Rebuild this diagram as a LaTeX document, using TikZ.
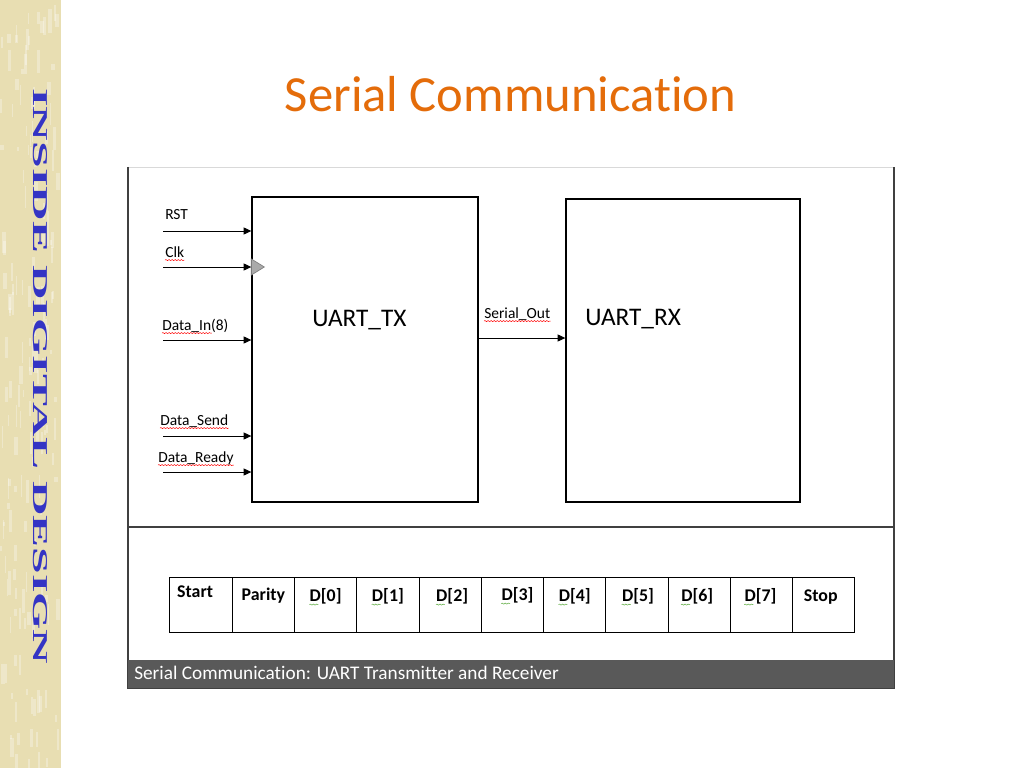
\documentclass[tikz,border=0pt]{standalone}
\usepackage{fontspec}
\setmainfont{Carlito}[RawFeature={-liga;-clig;-calt;-dlig}]
\newfontfamily\sidefont{Liberation Serif}
\usetikzlibrary{arrows.meta,decorations.pathmorphing}
\definecolor{titleorange}{RGB}{228,108,10}
\definecolor{sideblue}{RGB}{52,52,196}
\definecolor{sidebeige}{RGB}{232,222,178}
\definecolor{framegray}{RGB}{64,64,64}
\definecolor{capgray}{RGB}{89,89,89}
\definecolor{clkgray}{RGB}{170,170,170}
\definecolor{spellgreen}{RGB}{90,170,60}

\begin{document}
\begin{tikzpicture}[x=0.025cm, y=-0.025cm,
  block/.style={draw, line width=.9pt, inner sep=0pt},
  sig/.style={-{Triangle[length=5.5pt,width=5pt]}, line width=.7pt},
  pin label/.style={anchor=base west, inner sep=0pt, font=\fontsize{11}{13}\selectfont},
  bitcell/.style={draw, line width=.7pt, minimum width=1.557cm, minimum height=1.375cm, inner sep=0pt},
  bittext/.style={anchor=base, inner sep=0pt, font=\fontsize{12.7}{14}\selectfont\bfseries},
  squig/.style={decorate, decoration={snake, amplitude=.4pt, segment length=2.2pt}, red, line width=.35pt}]
\useasboundingbox (0,0) rectangle (1024,768);
\fill[white] (0,0) rectangle (1024,768);

% side band
\fill[sidebeige] (0,0) rectangle (61,768);
\pgfmathsetseed{7}
\foreach \k in {1,...,160}{
  \pgfmathsetmacro\xa{rnd*57}
  \pgfmathsetmacro\ya{rnd*760}
  \fill[white, opacity=.3] (\xa,\ya) rectangle ++({1+rnd*3},{4+rnd*20});
}
\node[rotate=-90, inner sep=0pt, text=sideblue] (side) at (40,376.5)
  {\resizebox{14.4cm}{0.35cm}{\sidefont\bfseries INSIDE DIGITAL DESIGN}};

% title
\node[anchor=base, text=titleorange, inner sep=0pt, font=\fontsize{36}{40}\selectfont] (title) at (510.5,112) {Serial Communication};

% frame
\draw[gray!30, line width=.6pt] (128,167) -- (894,167);
\draw[framegray, line width=1pt] (128,167) -- (128,688) -- (894,688) -- (894,167);
\draw[framegray, line width=1pt] (128,527) -- (894,527);
\fill[capgray] (128,660) rectangle (894,688);
\node[anchor=west, text=white, inner sep=0pt, font=\fontsize{13.7}{16}\selectfont] (caption) at (134,673) {Serial Communication: UART Transmitter and Receiver};

% blocks
\node[block, minimum width=5.65cm, minimum height=7.625cm] (tx) at (365,349.5) {};
\node[block, minimum width=5.85cm, minimum height=7.575cm] (rx) at (683,350.5) {};
\node[anchor=base west, inner sep=0pt, font=\fontsize{18}{20}\selectfont] (txname) at (312,326) {UART\_TX};
\node[anchor=base west, inner sep=0pt, font=\fontsize{18}{20}\selectfont] (rxname) at (585,325) {UART\_RX};

% inputs
\coordinate (rst) at (163,231);
\coordinate (clk) at (163,267);
\coordinate (din) at (163,340);
\coordinate (dsend) at (163,436);
\coordinate (dready) at (163,472);
\draw[sig] (rst) -- (rst -| tx.west);
\draw[sig] (clk) -- (clk -| tx.west);
\draw[sig] (din) -- (din -| tx.west);
\draw[sig] (dsend) -- (dsend -| tx.west);
\draw[sig] (dready) -- (dready -| tx.west);
\draw[fill=clkgray, draw=gray, line width=.5pt] ([yshift=0.2cm]clk -| tx.west) -- ++(13,8) -- ++(-13,8) -- cycle;

\node[pin label] (lrst) at (165,219) {RST};
\node[pin label] (lclk) at (165,257) {Clk};
\node[pin label] (ldin) at (162,330) {Data\_In(8)};
\node[pin label] (ldsend) at (160,425) {Data\_Send};
\node[pin label] (ldready) at (158,462) {Data\_Ready};

% output
\draw[sig] (tx.east |- 0,338) -- (rx.west |- 0,338);
\node[pin label] (lout) at (484,318) {Serial\_Out};

% spell check marks
\draw[squig] ([yshift=-2.2pt]lclk.base west) -- ([yshift=-2.2pt]lclk.base east);
\draw[squig] ([yshift=-2.2pt]ldin.base west) -- ([yshift=-2.2pt,xshift=-12pt]ldin.base east);
\draw[squig] ([yshift=-2.2pt]ldsend.base west) -- ([yshift=-2.2pt]ldsend.base east);
\draw[squig] ([yshift=-2.2pt]ldready.base west) -- ([yshift=-2.2pt]ldready.base east);
\draw[squig] ([yshift=-2.2pt]lout.base west) -- ([yshift=-2.2pt]lout.base east);

% frame bits
\foreach \t/\dx/\dy [count=\i from 0] in {Start/-6/4,Parity/0/1,D[0]/0/0,D[1]/0/0,D[2]/2/0,D[3]/5/1,D[4]/0/0,D[5]/1/0,D[6]/-2/0,D[7]/-1/0,Stop/-3/0}{
  \node[bitcell] (b\i) at ({201.1+62.27*\i},604.5) {};
  \node[bittext] (t\i) at ([xshift=\dx*0.025cm, yshift={-0.625cm+\dy*0.025cm}]b\i.north) {\t};
}
\foreach \i in {2,...,9}
  \draw[squig, spellgreen] ([yshift=-2.2pt]t\i.base west) -- ++(9,0);
\end{tikzpicture}
\end{document}
